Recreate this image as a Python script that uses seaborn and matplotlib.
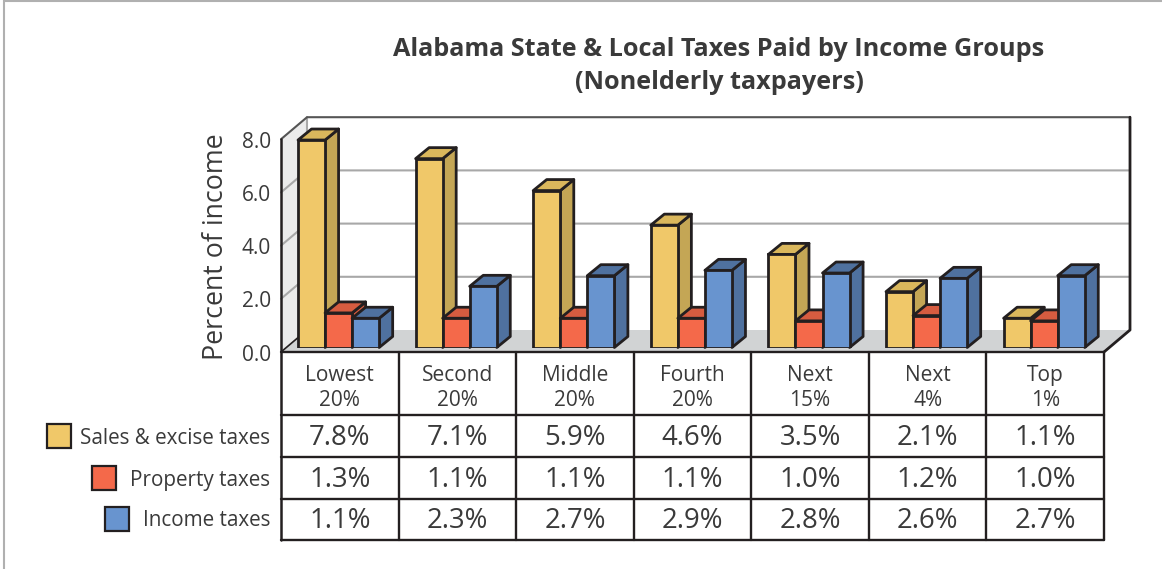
import matplotlib
matplotlib.use("Agg")
import matplotlib.pyplot as plt
from matplotlib.patches import Polygon, Rectangle
import pandas as pd
import seaborn as sns

# values
groups = ["Lowest\n20%", "Second\n20%", "Middle\n20%", "Fourth\n20%", "Next\n15%", "Next\n4%", "Top\n1%"]
taxes = ["Sales & excise taxes", "Property taxes", "Income taxes"]
sales = [7.8, 7.1, 5.9, 4.6, 3.5, 2.1, 1.1]
prop = [1.3, 1.1, 1.1, 1.1, 1.0, 1.2, 1.0]
income = [1.1, 2.3, 2.7, 2.9, 2.8, 2.6, 2.7]
y_ticks = [0, 2, 4, 6, 8]

front = ["#f0c869", "#f4694a", "#6894cf"]
top = ["#dab75c", "#d65c40", "#4f719f"]
side = ["#c4a655", "#d65c40", "#4f719f"]
INK = "#231f20"
TXT = "#3a3a3a"
FONT = "Open Sans"

W, H = 1162, 569
sns.set_style("white")
plt.rcParams["font.family"] = FONT

df = pd.DataFrame({
    "group": groups * 3,
    "tax": [t for t in taxes for _ in groups],
    "percent": sales + prop + income,
})

fig = plt.figure(figsize=(W / 100, H / 100), dpi=100, facecolor="white")

# --- background layer in pixel coords: box walls, floor, table frame
bg = fig.add_axes([0, 0, 1, 1], zorder=0)
bg.set_xlim(0, W)
bg.set_ylim(H, 0)
bg.axis("off")

x0, x1 = 281, 1104      # front edge of the floor / table
y0 = 352                # front zero line
dx, dy = 26, -22        # box depth
unit = 26.6             # pixels per percent

bg.plot([4, 4], [0, H], color="#b0b0b0", lw=1.5)
bg.plot([4, W], [1, 1], color="#b0b0b0", lw=1.5)

bg.add_patch(Polygon([(x0, y0), (x0 + dx, y0 + dy), (x0 + dx, y0 + dy - 8 * unit), (x0, y0 - 8 * unit)],
                     facecolor="#ebebeb", edgecolor="none"))
bg.add_patch(Polygon([(x0, y0), (x1, y0), (x1 + dx, y0 + dy), (x0 + dx, y0 + dy)],
                     facecolor="#d1d3d4", edgecolor="none"))
for v in y_ticks[1:4]:
    y = y0 - v * unit
    bg.plot([x0, x0 + dx, x1 + dx], [y, y + dy, y + dy], color="#a8a8a8", lw=1.5)
for v in y_ticks:
    bg.text(271, y0 - v * unit + 3, f"{v:.1f}", ha="right", va="center", fontsize=15, color=TXT)

bg.plot([x0 + dx, x0 + dx], [y0 + dy, y0 + dy - 8 * unit], color="#a8a8a8", lw=1.5)
bg.plot([x0, x0 + dx, x1 + dx], [y0 - 8 * unit, y0 + dy - 8 * unit, y0 + dy - 8 * unit], color="#555555", lw=1.5)
bg.plot([x1 + dx, x1 + dx, x1], [y0 + dy - 8 * unit, y0 + dy, y0], color=INK, lw=2)
bg.plot([x0, x0 + dx], [y0, y0 + dy], color=INK, lw=1.2)
bg.plot([x0, x0], [y0 - 8 * unit, 540], color=INK, lw=1.8)

# table
row_lines = [352, 415, 457, 499, 540]
col_w = (x1 - x0) / len(groups)
for y in row_lines:
    bg.plot([x0, x1], [y, y], color=INK, lw=1.7)
for i in range(1, len(groups) + 1):
    x = x0 + i * col_w
    bg.plot([x, x], [352, 540], color=INK, lw=1.7)
for i, g in enumerate(groups):
    cx = x0 + (i + 0.5) * col_w
    bg.text(cx, 388, g, ha="center", va="center", fontsize=15, color=TXT, linespacing=1.2)
    for r, vals in enumerate([sales, prop, income]):
        bg.text(cx, (row_lines[r + 1] + row_lines[r + 2]) / 2 + 2, f"{vals[i]:.1f}%",
                ha="center", va="center", fontsize=19.8, color=TXT)

# legend down the left of the table
swatch_x = [47, 92, 105]
label_y = [436, 478, 519]
for t, c, sx, ly in zip(taxes, front, swatch_x, label_y):
    bg.add_patch(Rectangle((sx, ly - 12), 24, 24, facecolor=c, edgecolor=INK, lw=1.6))
    bg.text(270, ly + 2, t, ha="right", va="center", fontsize=14.9, color=TXT)

bg.text(719, 49, "Alabama State & Local Taxes Paid by Income Groups",
        ha="center", va="center", fontsize=18.2, fontweight="bold", color=TXT)
bg.text(719, 82, "(Nonelderly taxpayers)",
        ha="center", va="center", fontsize=18.2, fontweight="bold", color=TXT)
bg.text(216, 247, "Percent of income", rotation=90, ha="center", va="center", fontsize=19.3, color=TXT)

# --- bars
ax_l, ax_r = 279.8, 1103.0
ax_b = 347.5
ax = fig.add_axes([ax_l / W, 1 - ax_b / H, (ax_r - ax_l) / W, 8 * unit / H], zorder=1)
ax.patch.set_alpha(0)
sns.barplot(data=df, x="group", y="percent", hue="tax", hue_order=taxes, palette=front,
            width=0.69, gap=0, saturation=1, edgecolor=INK, linewidth=2, legend=False, ax=ax)
ax.set_xlim(-0.5, len(groups) - 0.5)
ax.set_ylim(0, 8)
ax.axis("off")

# extrude each bar: side and top faces in data units, painted left to right
sx = 13.5 / ((ax_r - ax_l) / len(groups))
sy = 11 / unit
bars = list(ax.patches)
for n, bar in enumerate(bars):
    s = n // len(groups)
    xb, w, h = bar.get_x(), bar.get_width(), bar.get_height()
    z = 3 + xb
    bar.set_zorder(z + 0.02)
    ax.add_patch(Polygon([(xb + w, 0), (xb + w + sx, sy), (xb + w + sx, h + sy), (xb + w, h)],
                         facecolor=side[s], edgecolor=INK, lw=2, joinstyle="round", clip_on=False, zorder=z))
    ax.add_patch(Polygon([(xb, h), (xb + w, h), (xb + w + sx, h + sy), (xb + sx, h + sy)],
                         facecolor=top[s], edgecolor=INK, lw=2, joinstyle="round", clip_on=False, zorder=z + 0.01))

plt.savefig("out.png", dpi=100)
